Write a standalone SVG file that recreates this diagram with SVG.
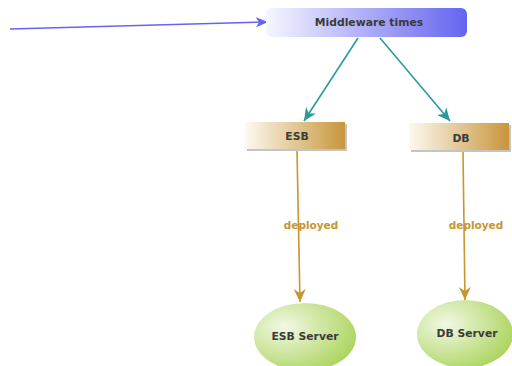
<svg xmlns="http://www.w3.org/2000/svg" width="512" height="366" viewBox="0 0 512 366">
<style>
.lbl{font-family:"DejaVu Sans","Liberation Sans",sans-serif;font-weight:bold;font-size:10.8px;fill:#3a3a3a;text-anchor:middle}
.dep{font-family:"DejaVu Sans","Liberation Sans",sans-serif;font-weight:bold;font-size:10.5px;fill:#c8962e;text-anchor:middle}
.teal{stroke:#2a9a9e;stroke-width:1.6;fill:none}
.gold{stroke:#c8962e;stroke-width:1.6;fill:none}
</style>
<defs>
<linearGradient id="gMid" x1="0" y1="0" x2="1" y2="0"><stop offset="0" stop-color="#f6f6ff"/><stop offset="1" stop-color="#6464f0"/></linearGradient>
<linearGradient id="gBox" x1="0" y1="0" x2="1" y2="0"><stop offset="0" stop-color="#fdf9f0"/><stop offset="1" stop-color="#c8963c"/></linearGradient>
<radialGradient id="gEll" cx="0.3" cy="0.35" r="0.85"><stop offset="0" stop-color="#f2f8e4"/><stop offset="1" stop-color="#a2d04c"/></radialGradient>
<marker id="mBlue" markerWidth="12" markerHeight="10" refX="11" refY="5" orient="auto" markerUnits="userSpaceOnUse"><path d="M0,0 L12,5 L0,10 L3,5 Z" fill="#6464f0"/></marker>
<marker id="mTeal" markerWidth="14" markerHeight="12" refX="13" refY="6" orient="auto" markerUnits="userSpaceOnUse"><path d="M0,0 L13,6 L0,12 L4,6 Z" fill="#2a9a9e"/></marker>
<marker id="mGold" markerWidth="14" markerHeight="12" refX="13" refY="6" orient="auto" markerUnits="userSpaceOnUse"><path d="M0,0 L13,6 L0,12 L4,6 Z" fill="#c8962e"/></marker>
</defs>
<rect width="512" height="366" fill="#ffffff"/>
<g id="connectors">
<line x1="10" y1="29" x2="267" y2="22" stroke="#6464f0" stroke-width="1.5" marker-end="url(#mBlue)"/>
<line class="teal" x1="358" y1="38" x2="304" y2="121" marker-end="url(#mTeal)"/>
<line class="teal" x1="380" y1="38" x2="450" y2="121" marker-end="url(#mTeal)"/>
<line class="gold" x1="297" y1="150" x2="300" y2="302" marker-end="url(#mGold)"/>
<line class="gold" x1="463" y1="152" x2="465" y2="300" marker-end="url(#mGold)"/>
<text class="dep" x="311" y="229">deployed</text>
<text class="dep" x="476" y="229">deployed</text>
</g>
<g id="middleware">
<rect x="266" y="8" width="201" height="29" rx="6" fill="url(#gMid)"/>
<text class="lbl" x="369" y="26">Middleware times</text>
</g>
<g id="esb">
<rect x="247" y="124" width="100" height="27" fill="#c4c4c4"/>
<rect x="245" y="122" width="100" height="27" fill="url(#gBox)"/>
<text class="lbl" x="297" y="140">ESB</text>
</g>
<g id="db">
<rect x="411" y="125" width="100" height="27" fill="#c4c4c4"/>
<rect x="409" y="123" width="100" height="27" fill="url(#gBox)"/>
<text class="lbl" x="461" y="142">DB</text>
</g>
<g id="esb-server">
<ellipse cx="305" cy="337" rx="51" ry="34" fill="url(#gEll)"/>
<text class="lbl" x="305" y="340">ESB Server</text>
</g>
<g id="db-server">
<ellipse cx="465" cy="334" rx="48" ry="34" fill="url(#gEll)"/>
<text class="lbl" x="467" y="337">DB Server</text>
</g>
</svg>
